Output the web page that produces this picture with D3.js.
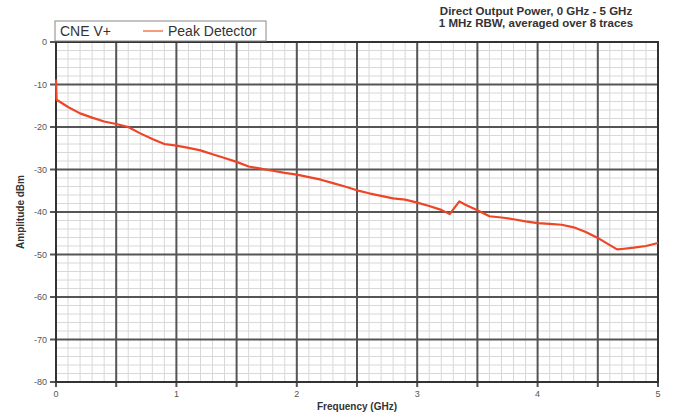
<!DOCTYPE html>
<html>
<head>
<meta charset="utf-8">
<script src="https://cdn.jsdelivr.net/npm/d3@7"></script>
<style>
  body { margin: 0; background: #fff; }
  text { font-family: "Liberation Sans", Arial, sans-serif; }
</style>
</head>
<body>
<div id="chart"></div>
<script>
const width = 678;
const height = 417;

// trace (GHz, dBm)
const freqs = [0, 0.005, 0.1, 0.2, 0.3, 0.4, 0.5, 0.6, 0.7, 0.8, 0.9, 1.0, 1.1, 1.2, 1.3, 1.4, 1.5,
  1.6, 1.7, 1.8, 1.9, 2.0, 2.1, 2.2, 2.3, 2.4, 2.5, 2.6, 2.7, 2.8, 2.9, 3.0, 3.1, 3.2, 3.27,
  3.35, 3.4, 3.5, 3.6, 3.7, 3.8, 3.9, 4.0, 4.1, 4.2, 4.3, 4.4, 4.5, 4.6, 4.66, 4.7, 4.8, 4.9, 5.0];
const power = [-8.8, -13.6, -15.3, -16.8, -17.8, -18.7, -19.3, -20.0, -21.5, -22.8, -24.0, -24.4,
  -24.9, -25.5, -26.4, -27.3, -28.2, -29.3, -29.8, -30.3, -30.8, -31.2, -31.8, -32.4, -33.2, -34.0,
  -34.9, -35.6, -36.2, -36.8, -37.1, -37.8, -38.6, -39.5, -40.5, -37.5, -38.3, -39.6, -41.0, -41.3,
  -41.7, -42.2, -42.6, -42.8, -43.0, -43.6, -44.7, -46.1, -47.8, -48.8, -48.7, -48.4, -48.0, -47.3];

const yTicks = [0, -10, -20, -30, -40, -50, -60, -70, -80];
const xLabels = [0, 1, 2, 3, 4, 5];
const titleLines = ["Direct Output Power, 0 GHz - 5 GHz", "1 MHz RBW, averaged over 8 traces"];

const margin = {top: 42, right: 20, bottom: 35, left: 56};

const svg = d3.select("#chart").append("svg")
    .attr("width", width)
    .attr("height", height);

const x = d3.scaleLinear().domain([0, 5]).range([margin.left, width - margin.right]);
const y = d3.scaleLinear().domain([0, -80]).range([margin.top, height - margin.bottom]);

// minor grid
const g = svg.append("g");
g.selectAll(".vminor").data(d3.range(0, 5.001, 0.1))
  .join("line")
    .attr("x1", d => x(d)).attr("x2", d => x(d))
    .attr("y1", y(0)).attr("y2", y(-80))
    .attr("stroke", "#d8d8d8").attr("stroke-width", 1);
g.selectAll(".hminor").data(d3.range(0, -80.001, -2))
  .join("line")
    .attr("x1", x(0)).attr("x2", x(5))
    .attr("y1", d => y(d)).attr("y2", d => y(d))
    .attr("stroke", "#d8d8d8").attr("stroke-width", 1);

// major grid
g.selectAll(".vmajor").data(d3.range(0, 5.001, 0.5))
  .join("line")
    .attr("x1", d => x(d)).attr("x2", d => x(d))
    .attr("y1", y(0)).attr("y2", y(-80) + 5)
    .attr("stroke", "#555").attr("stroke-width", 2);
g.selectAll(".hmajor").data(yTicks)
  .join("line")
    .attr("x1", x(0) - 6).attr("x2", x(5))
    .attr("y1", d => y(d)).attr("y2", d => y(d))
    .attr("stroke", "#555").attr("stroke-width", 2);

// plot frame
svg.append("rect")
    .attr("x", x(0)).attr("y", y(0))
    .attr("width", x(5) - x(0)).attr("height", y(-80) - y(0))
    .attr("fill", "none").attr("stroke", "#333").attr("stroke-width", 2);

// tick labels
svg.append("g").selectAll("text").data(yTicks)
  .join("text")
    .attr("x", x(0) - 9).attr("y", d => y(d) + 3)
    .attr("text-anchor", "end")
    .attr("font-size", 9).attr("fill", "#555")
    .text(d => d);
svg.append("g").selectAll("text").data(xLabels)
  .join("text")
    .attr("x", d => x(d)).attr("y", y(-80) + 15)
    .attr("text-anchor", "middle")
    .attr("font-size", 9).attr("fill", "#555")
    .text(d => d);

// axis titles
svg.append("text")
    .attr("x", (x(0) + x(5)) / 2).attr("y", height - 7)
    .attr("text-anchor", "middle")
    .attr("font-size", 10).attr("font-weight", "bold").attr("fill", "#333")
    .text("Frequency (GHz)");
svg.append("text")
    .attr("transform", "translate(24," + 212 + ") rotate(-90)")
    .attr("text-anchor", "middle")
    .attr("font-size", 10).attr("font-weight", "bold").attr("fill", "#333")
    .text("Amplitude  dBm");

// trace
const line = d3.line()
    .x((d, i) => x(freqs[i]))
    .y(d => y(d));
svg.append("path")
    .datum(power)
    .attr("d", line)
    .attr("fill", "none")
    .attr("stroke", "#ee4526")
    .attr("stroke-width", 2.2)
    .attr("stroke-linejoin", "round");

// legend
const leg = svg.append("g");
leg.append("rect")
    .attr("x", 55).attr("y", 21).attr("width", 211).attr("height", 20)
    .attr("fill", "#fff").attr("stroke", "#888").attr("stroke-width", 1);
leg.append("text")
    .attr("x", 60).attr("y", 36)
    .attr("font-size", 14).attr("fill", "#333")
    .text("CNE V+");
leg.append("line")
    .attr("x1", 143).attr("x2", 163).attr("y1", 31).attr("y2", 31)
    .attr("stroke", "#f39a80").attr("stroke-width", 2);
leg.append("text")
    .attr("x", 168).attr("y", 36)
    .attr("font-size", 14).attr("fill", "#333")
    .text("Peak Detector");

// title
svg.append("g").selectAll("text").data(titleLines)
  .join("text")
    .attr("x", 536).attr("y", (d, i) => 15 + i * 12)
    .attr("text-anchor", "middle")
    .attr("font-size", 11.5).attr("font-weight", "bold").attr("fill", "#333")
    .text(d => d);
</script>
</body>
</html>
